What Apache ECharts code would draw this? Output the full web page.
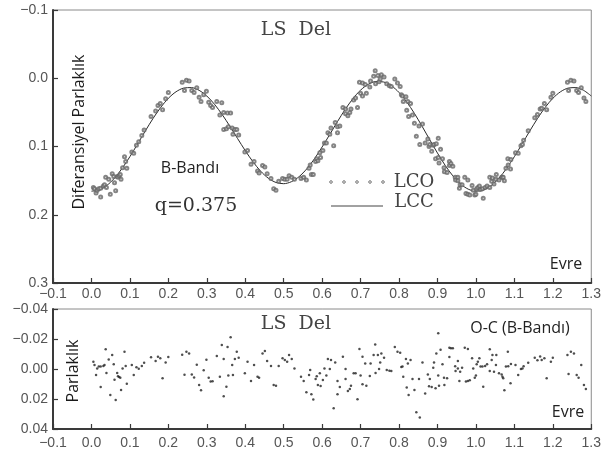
<!DOCTYPE html>
<html>
<head>
<meta charset="utf-8">
<script src="https://cdn.jsdelivr.net/npm/echarts@6/dist/echarts.min.js"></script>
<style>
  html, body { margin: 0; padding: 0; background: #fff; }
  #chart { width: 604px; height: 452px; }
</style>
</head>
<body>
<div id="chart"></div>
<script>
// Computed light curve (LCC): phase grid and differential magnitude
const modelPhase = [
  0.00, 0.02, 0.04, 0.06, 0.08, 0.10, 0.12, 0.14, 0.16, 0.18,
  0.20, 0.22, 0.24, 0.26, 0.28, 0.30, 0.32, 0.34, 0.36, 0.38,
  0.40, 0.42, 0.44, 0.46, 0.48, 0.50, 0.52, 0.54, 0.56, 0.58,
  0.60, 0.62, 0.64, 0.66, 0.68, 0.70, 0.72, 0.74, 0.76, 0.78,
  0.80, 0.82, 0.84, 0.86, 0.88, 0.90, 0.92, 0.94, 0.96, 0.98,
  1.00, 1.02, 1.04, 1.06, 1.08, 1.10, 1.12, 1.14, 1.16, 1.18,
  1.20, 1.22, 1.24, 1.26, 1.28, 1.30
];
const modelMag = [
  0.1655, 0.1637, 0.1571, 0.1463, 0.1319, 0.1149, 0.0963, 0.0773, 0.0591, 0.0428,
  0.0294, 0.0198, 0.0144, 0.0137, 0.0177, 0.0260, 0.0381, 0.0532, 0.0703, 0.0883,
  0.1060, 0.1223, 0.1361, 0.1465, 0.1527, 0.1545, 0.1516, 0.1442, 0.1328, 0.1180,
  0.1007, 0.0822, 0.0634, 0.0456, 0.0300, 0.0174, 0.0089, 0.0048, 0.0055, 0.0109,
  0.0208, 0.0347, 0.0515, 0.0704, 0.0902, 0.1096, 0.1276, 0.1430, 0.1549, 0.1625,
  0.1655, 0.1637, 0.1571, 0.1463, 0.1319, 0.1149, 0.0963, 0.0773, 0.0591, 0.0428,
  0.0294, 0.0198, 0.0144, 0.0137, 0.0177, 0.0260
];

// Observed points (LCO): phase, differential magnitude and O-C residual
const obsPhase = [
  0.005, 0.008, 0.012, 0.015, 0.019, 0.024, 0.024, 0.031, 0.034, 0.037,
  0.039, 0.045, 0.049, 0.054, 0.058, 0.060, 0.063, 0.067, 0.069, 0.072,
  0.075, 0.077, 0.081, 0.086, 0.089, 0.092, 0.105, 0.110, 0.117, 0.123,
  0.131, 0.137, 0.155, 0.167, 0.173, 0.179, 0.185, 0.193, 0.200, 0.236,
  0.242, 0.247, 0.254, 0.261, 0.267, 0.274, 0.280, 0.285, 0.292, 0.299,
  0.305, 0.310, 0.315, 0.326, 0.334, 0.339, 0.344, 0.344, 0.351, 0.354,
  0.356, 0.362, 0.366, 0.368, 0.373, 0.378, 0.383, 0.399, 0.406, 0.415,
  0.423, 0.432, 0.436, 0.445, 0.451, 0.457, 0.467, 0.474, 0.480, 0.487,
  0.497, 0.503, 0.509, 0.514, 0.521, 0.528, 0.545, 0.552, 0.559, 0.566,
  0.569, 0.572, 0.577, 0.583, 0.586, 0.589, 0.594, 0.596, 0.602, 0.606,
  0.611, 0.615, 0.620, 0.623, 0.630, 0.634, 0.640, 0.640, 0.646, 0.654,
  0.661, 0.661, 0.667, 0.672, 0.675, 0.682, 0.687, 0.692, 0.697, 0.700,
  0.705, 0.705, 0.712, 0.715, 0.724, 0.726, 0.734, 0.738, 0.739, 0.745,
  0.748, 0.751, 0.754, 0.761, 0.768, 0.775, 0.780, 0.789, 0.796, 0.803,
  0.806, 0.809, 0.811, 0.818, 0.820, 0.823, 0.825, 0.830, 0.835, 0.840,
  0.845, 0.852, 0.854, 0.861, 0.868, 0.875, 0.878, 0.880, 0.885, 0.889,
  0.891, 0.895, 0.897, 0.902, 0.904, 0.902, 0.908, 0.913, 0.917, 0.918,
  0.925, 0.931, 0.931, 0.935, 0.940, 0.946, 0.947, 0.953, 0.953, 0.957,
  0.959, 0.964, 0.971, 0.979, 0.974, 0.979, 0.984, 0.990, 0.993, 0.997,
  1.000, 1.002, 1.005, 1.009, 1.012, 1.017, 1.019, 1.024, 1.029, 1.036,
  1.036, 1.041, 1.043, 1.047, 1.052, 1.053, 1.060, 1.067, 1.069, 1.071,
  1.074, 1.078, 1.083, 1.084, 1.090, 1.091, 1.103, 1.110, 1.117, 1.121,
  1.124, 1.136, 1.153, 1.160, 1.167, 1.171, 1.178, 1.184, 1.195, 1.200,
  1.238, 1.241, 1.247, 1.255, 1.262, 1.267, 1.274, 1.281, 1.286
];
const obsMag = [
  0.160, 0.162, 0.168, 0.164, 0.162, 0.161, 0.174, 0.158, 0.156, 0.145,
  0.160, 0.148, 0.170, 0.140, 0.144, 0.153, 0.165, 0.144, 0.145, 0.143,
  0.141, 0.148, 0.131, 0.115, 0.122, 0.132, 0.108, 0.110, 0.098, 0.093,
  0.084, 0.076, 0.056, 0.048, 0.040, 0.037, 0.046, 0.030, 0.021, 0.006,
  0.018, 0.003, 0.004, 0.018, 0.021, 0.014, 0.028, 0.034, 0.024, 0.019,
  0.035, 0.040, 0.043, 0.034, 0.054, 0.036, 0.050, 0.075, 0.074, 0.051,
  0.071, 0.051, 0.073, 0.082, 0.075, 0.075, 0.083, 0.108, 0.106, 0.126,
  0.122, 0.136, 0.139, 0.128, 0.130, 0.140, 0.147, 0.162, 0.164, 0.151,
  0.147, 0.148, 0.148, 0.143, 0.145, 0.148, 0.147, 0.145, 0.149, 0.132,
  0.127, 0.141, 0.141, 0.122, 0.118, 0.121, 0.109, 0.116, 0.106, 0.095,
  0.095, 0.080, 0.082, 0.073, 0.099, 0.065, 0.071, 0.080, 0.070, 0.043,
  0.045, 0.052, 0.055, 0.050, 0.045, 0.032, 0.029, 0.043, 0.006, 0.022,
  0.007, 0.026, 0.009, 0.022, 0.013, 0.004, -0.003, -0.011, 0.008, -0.004,
  0.005, 0.001, -0.005, -0.002, 0.008, 0.011, 0.012, 0.001, 0.007, 0.012,
  0.024, 0.026, 0.034, 0.027, 0.047, 0.034, 0.056, 0.037, 0.054, 0.066,
  0.085, 0.070, 0.097, 0.067, 0.095, 0.089, 0.100, 0.097, 0.107, 0.098,
  0.097, 0.118, 0.096, 0.116, 0.124, 0.088, 0.104, 0.118, 0.131, 0.137,
  0.138, 0.122, 0.128, 0.125, 0.129, 0.145, 0.149, 0.145, 0.150, 0.161,
  0.156, 0.156, 0.145, 0.149, 0.169, 0.170, 0.171, 0.157, 0.164, 0.171,
  0.170, 0.162, 0.160, 0.158, 0.163, 0.162, 0.176, 0.160, 0.158, 0.145,
  0.160, 0.151, 0.146, 0.155, 0.148, 0.141, 0.149, 0.145, 0.145, 0.145,
  0.150, 0.132, 0.118, 0.127, 0.133, 0.119, 0.109, 0.110, 0.099, 0.097,
  0.091, 0.077, 0.058, 0.053, 0.045, 0.044, 0.037, 0.046, 0.028, 0.022,
  0.006, 0.018, 0.003, 0.004, 0.018, 0.021, 0.014, 0.029, 0.034
];
const ocResidual = [
  -0.0049, -0.0027, 0.0040, -0.0004, -0.0016, -0.0016, 0.0120, -0.0020, -0.0027, -0.0131,
  0.0027, -0.0064, 0.0173, -0.0093, -0.0031, 0.0071, 0.0206, 0.0027, 0.0049, 0.0053,
  0.0058, 0.0140, -0.0004, -0.0115, -0.0020, 0.0098, -0.0027, 0.0040, -0.0011, -0.0002,
  -0.0020, -0.0042, -0.0078, -0.0053, -0.0082, -0.0071, 0.0062, -0.0044, -0.0080, -0.0095,
  0.0038, -0.0115, -0.0104, 0.0036, 0.0056, -0.0029, 0.0107, 0.0142, 0.0009, -0.0062,
  0.0058, 0.0084, 0.0082, -0.0087, 0.0051, -0.0160, -0.0067, 0.0182, 0.0118, -0.0147,
  0.0044, -0.0211, -0.0027, 0.0040, -0.0067, -0.0115, -0.0075, 0.0029, -0.0049, 0.0080,
  -0.0027, 0.0051, 0.0058, -0.0104, -0.0120, -0.0053, -0.0020, 0.0107, 0.0111, -0.0020,
  -0.0071, -0.0060, -0.0049, -0.0093, -0.0067, -0.0004, 0.0051, 0.0080, 0.0155, 0.0040,
  0.0007, 0.0169, 0.0204, 0.0067, 0.0049, 0.0107, 0.0029, 0.0113, 0.0073, -0.0004,
  0.0044, -0.0067, 0.0000, -0.0060, 0.0262, -0.0044, 0.0080, 0.0169, 0.0120, -0.0082,
  0.0000, 0.0067, 0.0147, 0.0133, 0.0111, 0.0029, 0.0029, 0.0202, -0.0133, 0.0044,
  -0.0082, 0.0102, -0.0036, 0.0111, 0.0047, -0.0036, -0.0093, -0.0164, 0.0027, -0.0093,
  0.0000, -0.0044, -0.0104, -0.0075, 0.0007, 0.0011, 0.0013, -0.0147, -0.0115, -0.0109,
  -0.0013, -0.0016, 0.0051, -0.0067, 0.0124, -0.0036, 0.0173, -0.0060, 0.0067, 0.0140,
  0.0289, 0.0067, 0.0324, -0.0044, 0.0164, 0.0036, 0.0115, 0.0067, 0.0120, -0.0009,
  -0.0044, 0.0129, -0.0104, 0.0044, 0.0111, -0.0238, -0.0129, -0.0031, 0.0058, 0.0107,
  0.0062, -0.0142, -0.0080, -0.0138, -0.0138, -0.0018, 0.0013, -0.0053, -0.0004, 0.0080,
  0.0018, -0.0009, -0.0142, -0.0133, 0.0084, 0.0080, 0.0075, -0.0071, -0.0004, 0.0058,
  0.0044, -0.0031, -0.0049, -0.0071, -0.0016, -0.0016, 0.0118, -0.0020, -0.0031, -0.0131,
  0.0013, -0.0060, -0.0093, 0.0018, -0.0027, -0.0093, 0.0029, 0.0036, 0.0051, 0.0062,
  0.0142, -0.0016, -0.0115, -0.0018, 0.0095, -0.0033, -0.0027, 0.0040, 0.0000, -0.0004,
  -0.0018, -0.0042, -0.0075, -0.0058, -0.0084, -0.0060, -0.0071, 0.0062, -0.0049, -0.0075,
  -0.0093, 0.0033, -0.0115, -0.0104, 0.0040, 0.0058, -0.0027, 0.0107, 0.0133
];

const chart = echarts.init(document.getElementById('chart'), null, { renderer: 'canvas' });

const AXIS_COLOR = '#3a3a3a';
const LABEL_FONT = 'Liberation Sans';
const minus = s => s.replace('-', '\u2212');
const fmt = digits => v => minus((Math.abs(v) < 1e-9 ? 0 : v).toFixed(digits));

function phaseAxis(gridIndex, margin) {
  return {
    type: 'value', gridIndex, min: -0.1, max: 1.3, interval: 0.1,
    axisLine: { show: true, onZero: false, lineStyle: { color: AXIS_COLOR, width: 2 } },
    axisTick: { show: true, inside: true, length: 5, lineStyle: { color: AXIS_COLOR, width: 1.2 } },
    axisLabel: { formatter: fmt(1), fontFamily: LABEL_FONT, fontSize: 14, color: '#555', margin,
                 showMinLabel: true, showMaxLabel: true },
    splitLine: { show: false }
  };
}
function magAxis(gridIndex, min, max, interval, digits) {
  return {
    type: 'value', gridIndex, inverse: true, min, max, interval,
    axisLine: { show: true, onZero: false, lineStyle: { color: AXIS_COLOR, width: 2 } },
    axisTick: { show: true, inside: true, length: 5, lineStyle: { color: AXIS_COLOR, width: 1.2 } },
    axisLabel: { formatter: fmt(digits), fontFamily: LABEL_FONT, fontSize: 14, color: '#555', margin: 5,
                 showMinLabel: true, showMaxLabel: true },
    splitLine: { show: false }
  };
}

const serif = size => size + 'px "DejaVu Serif", "Liberation Serif", serif';
const sans = size => size + 'px "Open Sans", "Noto Sans", sans-serif';

function label(text, x, y, font, fill, extra) {
  return Object.assign({
    type: 'text', x, y, z: 100,
    style: { text, font, fill: fill || '#222', align: 'center', verticalAlign: 'middle' }
  }, extra || {});
}

// Legend keys for the observed (dotted) and computed (solid) curves
const legendDots = [331, 344, 357, 370, 383].map(cx => ({
  type: 'circle', z: 100, shape: { cx, cy: 182, r: 1.3 },
  style: { fill: '#fff', stroke: '#666', lineWidth: 0.9 }
}));

chart.setOption({
  animation: false,
  backgroundColor: '#fff',
  grid: [
    { left: 53, top: 10, width: 546, height: 273, show: true, borderColor: '#8a8a8a', borderWidth: 1 },
    { left: 53, top: 309, width: 546, height: 120, show: true, borderColor: '#8a8a8a', borderWidth: 1 }
  ],
  xAxis: [phaseAxis(0, 4), phaseAxis(1, 7)],
  yAxis: [magAxis(0, -0.1, 0.3, 0.1, 1), magAxis(1, -0.04, 0.04, 0.02, 2)],
  series: [
    {
      name: 'LCC', type: 'line', xAxisIndex: 0, yAxisIndex: 0,
      data: modelPhase.map((p, i) => [p, modelMag[i]]),
      showSymbol: false, smooth: 0.3,
      lineStyle: { color: '#2a2a2a', width: 1 }, z: 2
    },
    {
      name: 'LCO', type: 'scatter', xAxisIndex: 0, yAxisIndex: 0,
      data: obsPhase.map((p, i) => [p, obsMag[i]]),
      symbol: 'emptyCircle', symbolSize: 3,
      itemStyle: { color: '#666', borderColor: '#666', borderWidth: 0.7 }, z: 3
    },
    {
      name: 'O-C', type: 'scatter', xAxisIndex: 1, yAxisIndex: 1,
      data: obsPhase.map((p, i) => [p, ocResidual[i]]),
      symbol: 'circle', symbolSize: 2.5,
      itemStyle: { color: '#222' }, z: 3
    }
  ],
  graphic: [
    label('LS  Del', 296, 30, serif(19), '#444'),
    label('B-Bandı', 190, 168, sans(16)),
    label('q=0.375', 196, 206, serif(19), '#333'),
    label('Diferansiyel Parlaklık', 79, 132, sans(16), '#1a1a1a', { rotation: Math.PI / 2 }),
    ...legendDots,
    { type: 'line', z: 100, shape: { x1: 331, y1: 206, x2: 383, y2: 206 }, style: { stroke: '#444', lineWidth: 1 } },
    label('LCO', 414, 182, serif(18), '#444'),
    label('LCC', 414, 202, serif(18), '#444'),
    label('Evre', 566, 264, sans(16)),
    label('LS  Del', 296, 324, serif(19), '#444'),
    label('O-C (B-Bandı)', 520, 328, sans(16)),
    label('Evre', 568, 412, sans(16)),
    label('Parlaklık', 73, 371, sans(16), '#1a1a1a', { rotation: Math.PI / 2 })
  ]
});
</script>
</body>
</html>
